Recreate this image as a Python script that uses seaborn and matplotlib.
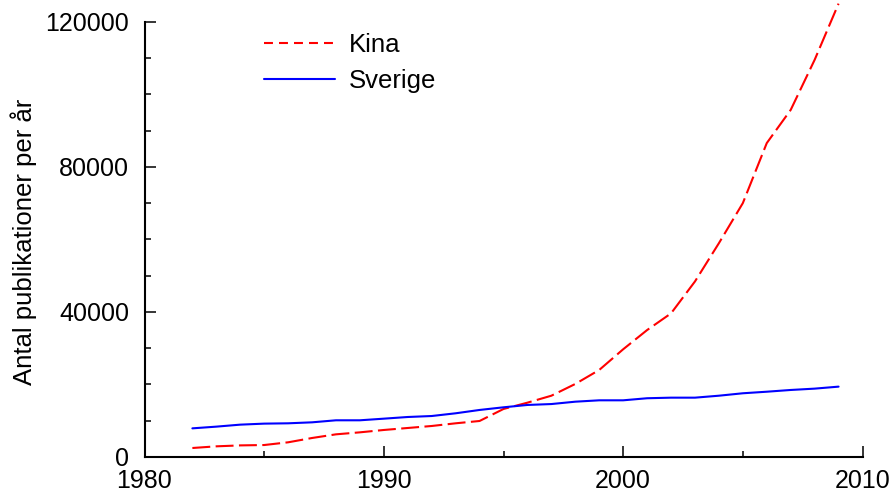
import matplotlib
matplotlib.use("Agg")
import matplotlib.pyplot as plt
from matplotlib.ticker import MultipleLocator
from matplotlib.lines import Line2D
import seaborn as sns
import pandas as pd

# Publications per year, 1982-2009
years = list(range(1982, 2010))
kina = [2480, 2940, 3200, 3300, 4050, 5240, 6250, 6800, 7450, 8000,
        8550, 9290, 9930, 13240, 14980, 16900, 20140, 24000, 29700, 35000,
        39600, 48400, 58950, 70000, 86550, 95700, 109500, 125000]
sverige = [7900, 8370, 8920, 9200, 9290, 9560, 10120, 10120, 10570, 11030,
           11300, 12050, 12970, 13700, 14350, 14600, 15250, 15630, 15630, 16200,
           16360, 16360, 16900, 17570, 18000, 18480, 18850, 19400]

x_ticks = [1980, 1990, 2000, 2010]
y_ticks = [0, 40000, 80000, 120000]
y_label = "Antal publikationer per år"
labels = ["Kina", "Sverige"]
colors = {"Kina": "#ff0000", "Sverige": "#0000ff"}

df = pd.DataFrame({
    "År": years * 2,
    "Antal": kina + sverige,
    "Land": ["Kina"] * len(years) + ["Sverige"] * len(years),
})

sns.set_theme(style="ticks")
plt.rcParams["font.family"] = ["Liberation Sans", "DejaVu Sans"]
for key in ("text.color", "axes.labelcolor", "xtick.color", "ytick.color"):
    plt.rcParams[key] = "black"
fs_tick = 18
fs_text = 18.5
lw = 1.5
line_dash = (8.6, 2.6)     # long dashes on the curve
legend_dash = (4.3, 2.9)   # shorter dashes in the legend key

fig = plt.figure(figsize=(8.93, 4.92), dpi=100)
ax = fig.add_axes([144.5 / 893, 1 - 457 / 492, 718 / 893, 457 / 492])

sns.lineplot(data=df, x="År", y="Antal", hue="Land", style="Land",
             palette=colors, dashes={"Kina": line_dash, "Sverige": ""},
             linewidth=lw, legend=False, ax=ax, sort=False)

ax.set_xlim(1980, 2010)
ax.set_ylim(0, 126000)
ax.set_xticks(x_ticks)
ax.set_yticks(y_ticks)
ax.set_xticklabels([str(t) for t in x_ticks])
ax.set_yticklabels([str(t) for t in y_ticks])
ax.xaxis.set_minor_locator(MultipleLocator(5))
ax.yaxis.set_minor_locator(MultipleLocator(10000))
ax.tick_params(axis="both", which="major", direction="in", length=8.2,
               width=1.1, color="black", labelsize=fs_tick, labelcolor="black")
ax.tick_params(axis="both", which="minor", direction="in", length=4.2,
               width=1.1, color="black")
ax.tick_params(axis="x", which="major", pad=9)
ax.tick_params(axis="y", which="major", pad=11)

for side in ("top", "right"):
    ax.spines[side].set_visible(False)
for side in ("left", "bottom"):
    ax.spines[side].set_linewidth(1.5)
    ax.spines[side].set_color("black")
ax.spines["left"].set_bounds(0, 120000)
ax.spines["bottom"].set_bounds(1980, 2010)

ax.set_xlabel("")
ax.set_ylabel(y_label, fontsize=fs_text, color="black")
ax.yaxis.set_label_coords(37 / 893, 1 - 242 / 492, transform=fig.transFigure)

handles = [
    Line2D([], [], color=colors["Kina"], lw=lw, dashes=legend_dash),
    Line2D([], [], color=colors["Sverige"], lw=lw),
]
fig.legend(handles, labels, loc="upper left",
           bbox_to_anchor=(264 / 893, 1 - 33 / 492),
           frameon=False, fontsize=fs_text, handlelength=2.75, handletextpad=0.55,
           labelspacing=0.46, borderpad=0, borderaxespad=0)

ax.set_facecolor("white")
fig.patch.set_facecolor("white")
fig.savefig("out.png", dpi=100)
